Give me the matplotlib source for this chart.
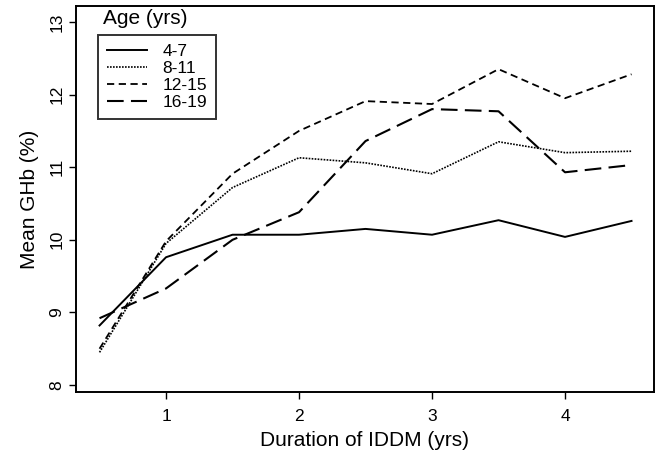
import matplotlib
matplotlib.use("Agg")
import matplotlib.pyplot as plt

plt.rcParams['font.family'] = ['Liberation Sans', 'DejaVu Sans']

duration = [0.5, 1.0, 1.5, 2.0, 2.5, 3.0, 3.5, 4.0, 4.5]
age_groups = ["4-7", "8-11", "12-15", "16-19"]
ghb_4_7 = [8.82, 9.76, 10.07, 10.07, 10.15, 10.07, 10.27, 10.04, 10.26]
ghb_8_11 = [8.45, 9.95, 10.72, 11.13, 11.06, 10.91, 11.35, 11.2, 11.22]
ghb_12_15 = [8.5, 9.98, 10.91, 11.5, 11.91, 11.87, 12.35, 11.95, 12.28]
ghb_16_19 = [8.92, 9.33, 10.0, 10.38, 11.36, 11.8, 11.77, 10.93, 11.03]

series = [ghb_4_7, ghb_8_11, ghb_12_15, ghb_16_19]
styles = ['-', (0, (1, 0.8)), (0, (4, 2.5)), (0, (8, 3.5))]
widths = [1.4, 1.2, 1.3, 1.5]

fig = plt.figure(figsize=(6.57, 4.61), dpi=100)
ax = fig.add_axes([76/657, 69/461, 578/657, 386/461])

for vals, name, ls, lw in zip(series, age_groups, styles, widths):
    ax.plot(duration, vals, color='black', linestyle=ls, linewidth=lw, label=name)

ax.set_xlim(0.323, 4.669)
ax.set_ylim(7.904, 13.22)
ax.set_xticks([1, 2, 3, 4])
ax.set_yticks([8, 9, 10, 11, 12, 13])
ax.tick_params(axis='both', direction='out', length=5, width=1, labelsize=12.5, colors='black')
ax.tick_params(axis='x', pad=7)
for lab in ax.get_yticklabels():
    lab.set_rotation(90)
    lab.set_va('center')
for sp in ax.spines.values():
    sp.set_linewidth(1.4)

ax.set_xlabel("Duration of IDDM (yrs)", fontsize=15, labelpad=5)
ax.set_ylabel("Mean GHb (%)", fontsize=15, labelpad=7)

leg = ax.legend(loc='upper left', bbox_to_anchor=(0.038, 0.925), fontsize=12.5,
                handlelength=2.3, handletextpad=0.9, labelspacing=0.12,
                borderpad=0.5, frameon=True, fancybox=False, borderaxespad=0)
leg.get_frame().set_edgecolor('black')
leg.get_frame().set_linewidth(1.4)
ax.text(0.12, 0.968, "Age (yrs)", transform=ax.transAxes, fontsize=15,
        ha='center', va='center')

fig.savefig("out.png", dpi=100)
